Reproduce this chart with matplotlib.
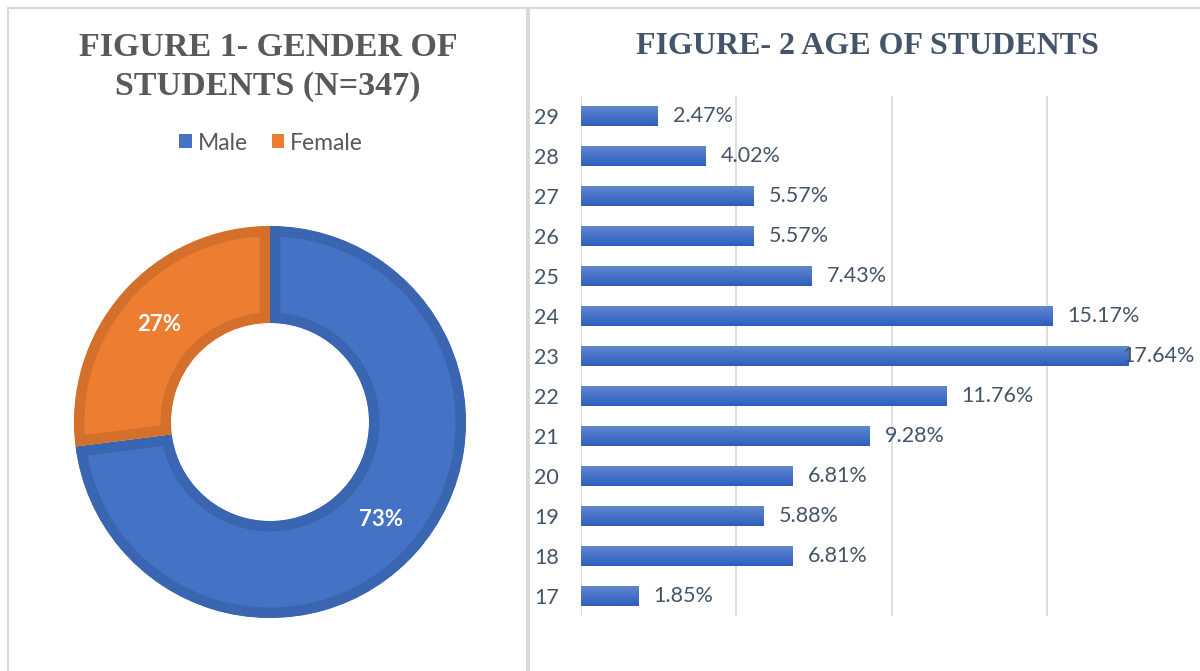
import numpy as np
import matplotlib
matplotlib.use("Agg")
import matplotlib.pyplot as plt
from matplotlib.patches import Rectangle, Patch
from matplotlib.colors import LinearSegmentedColormap

# data
gender_labels = ["Male", "Female"]
gender_pct = [73, 27]
gender_colors = ["#4472c4", "#ed7d31"]
gender_edges = ["#3a65b0", "#d4702c"]

ages = ["17", "18", "19", "20", "21", "22", "23", "24", "25", "26", "27", "28", "29"]
age_pct = [1.85, 6.81, 5.88, 6.81, 9.28, 11.76, 17.64, 15.17, 7.43, 5.57, 5.57, 4.02, 2.47]

W, H = 1200, 671
fig = plt.figure(figsize=(W / 100, H / 100), dpi=100)
fig.patch.set_facecolor("white")

def fx(x):
    return x / W

def fy(y):
    return 1 - y / H

# panel borders
fig.add_artist(Rectangle((fx(8), fy(690)), fx(527) - fx(8), fy(8) - fy(690),
                         transform=fig.transFigure, fill=False, ec="#d9d9d9", lw=1.5))
fig.add_artist(Rectangle((fx(529), fy(690)), fx(1230) - fx(529), fy(8) - fy(690),
                         transform=fig.transFigure, fill=False, ec="#d9d9d9", lw=1.5))

serif = "Liberation Serif"
sans = "Lato"

# ---- figure 1: donut
fig.text(fx(268), fy(47), "FIGURE 1- GENDER OF", ha="center", va="center",
         fontsize=24.5, fontweight="bold", family=serif, color="#595959")
fig.text(fx(268), fy(86), "STUDENTS (N=347)", ha="center", va="center",
         fontsize=24.5, fontweight="bold", family=serif, color="#595959")

size = 400
ax1 = fig.add_axes([fx(270 - size / 2), fy(422 + size / 2), size / W, size / H])
wedges, texts, autotexts = ax1.pie(
    gender_pct, colors=gender_colors, startangle=90, counterclock=False,
    radius=0.98, wedgeprops=dict(width=0.485), autopct="%1.0f%%", pctdistance=0.755,
    textprops=dict(color="white", fontsize=16, fontweight="bold", family=sans))
for w, ec in zip(wedges, gender_edges):
    w.set_edgecolor(ec)
    w.set_linewidth(15)
    w.set_clip_path(w)
    w.set_clip_on(True)
ax1.set_xlim(-1, 1)
ax1.set_ylim(-1, 1)
ax1.set_aspect("equal")

handles = [Patch(facecolor=c, edgecolor="none") for c in gender_colors]
fig.legend(handles, gender_labels, loc="center", bbox_to_anchor=(fx(271), fy(143)),
           ncol=2, frameon=False, handlelength=0.55, handleheight=0.55, handletextpad=0.25,
           columnspacing=1.05, prop=dict(family=sans, size=16.5), labelcolor="#595959")

# ---- figure 2: age bars
fig.text(fx(867), fy(47), "FIGURE- 2 AGE OF STUDENTS", ha="center", va="center",
         fontsize=23, fontweight="bold", family=serif, color="#44546a")

ax2 = fig.add_axes([fx(581), fy(616), (1202 - 581) / W, 520 / H])
ypos = np.arange(len(ages))
bars = ax2.barh(ypos, age_pct, height=0.52, color="#4472c4", zorder=2)
cmap = LinearSegmentedColormap.from_list("bar", ["#2d5dbd", "#6589d2"])
grad = np.linspace(0, 1, 64).reshape(-1, 1)
for b in bars:
    im = ax2.imshow(grad, cmap=cmap, origin="lower", aspect="auto", zorder=3,
                    extent=[b.get_x(), b.get_x() + b.get_width(), b.get_y(), b.get_y() + b.get_height()])
    im.set_clip_path(b)

ax2.set_xlim(0, 20)
ax2.set_ylim(-0.5, len(ages) - 0.5)
ax2.set_xticks([0, 5, 10, 15, 20])
ax2.set_xticklabels([])
ax2.grid(axis="x", color="#d9d9d9", lw=1.2, zorder=0)
ax2.set_axisbelow(True)
ax2.set_yticks(ypos)
ax2.set_yticklabels(ages, family=sans, fontsize=15.5, color="#44546a")
ax2.tick_params(length=0, pad=16)
for s in ax2.spines.values():
    s.set_visible(False)

for y, v in zip(ypos, age_pct):
    lab = f"{v:.2f}%"
    if v > 16:
        ax2.annotate(lab, (19.75, y), ha="right", va="center", fontsize=15.5,
                     family=sans, color="#44546a", zorder=4)
    else:
        ax2.annotate(lab, (v, y), xytext=(11, 0), textcoords="offset points",
                     ha="left", va="center", fontsize=15.5, family=sans,
                     color="#44546a", zorder=4)

fig.savefig("out.png", dpi=100)
